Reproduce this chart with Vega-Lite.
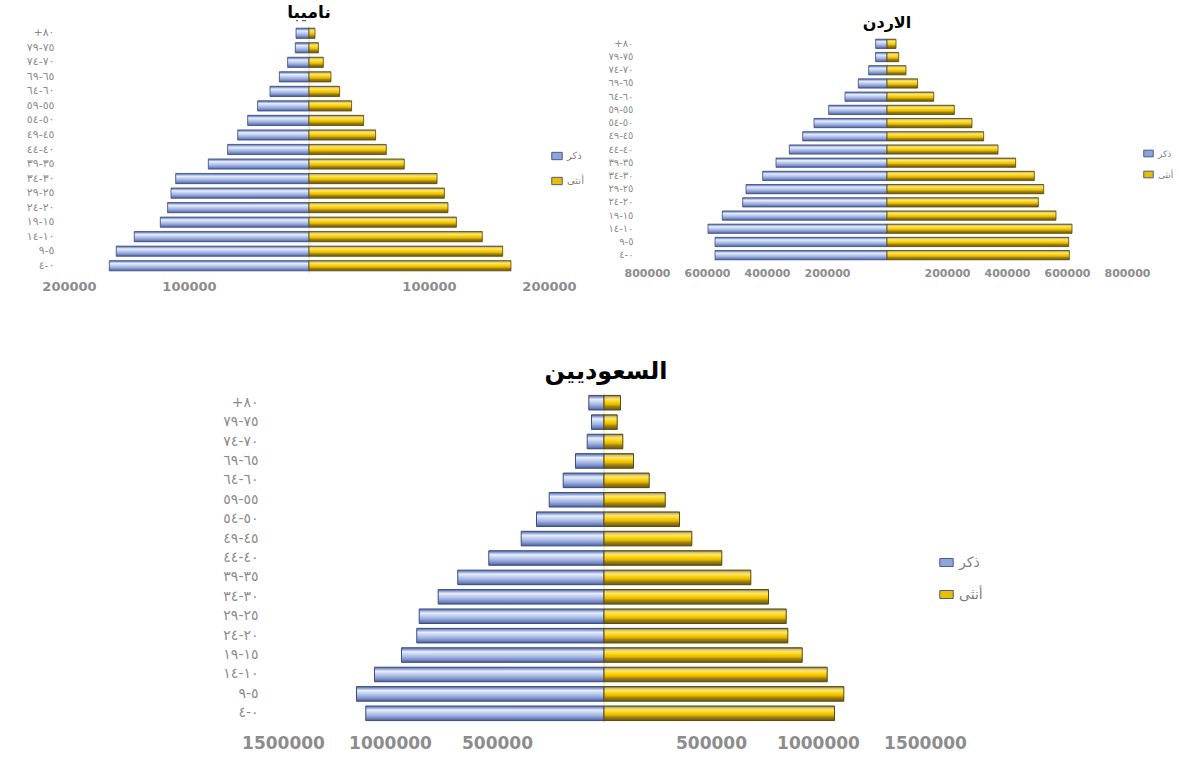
{
  "$schema": "https://vega.github.io/schema/vega-lite/v6.json",
  "background": "white",
  "padding": {"left": 9, "top": 4, "right": 0, "bottom": 0},
  "config": {
    "view": {"stroke": null},
    "font": "DejaVu Sans",
    "axis": {"grid": false, "ticks": false, "domain": false, "title": null}
  },
  "datasets": {
    "namibia": [
      {"age": "+٨٠", "sex": "ذكر", "value": -10800}, {"age": "+٨٠", "sex": "أنثى", "value": 5000},
      {"age": "٧٥-٧٩", "sex": "ذكر", "value": -11400}, {"age": "٧٥-٧٩", "sex": "أنثى", "value": 7800},
      {"age": "٧٠-٧٤", "sex": "ذكر", "value": -17800}, {"age": "٧٠-٧٤", "sex": "أنثى", "value": 11900},
      {"age": "٦٥-٦٩", "sex": "ذكر", "value": -24700}, {"age": "٦٥-٦٩", "sex": "أنثى", "value": 18300},
      {"age": "٦٠-٦٤", "sex": "ذكر", "value": -32500}, {"age": "٦٠-٦٤", "sex": "أنثى", "value": 25500},
      {"age": "٥٥-٥٩", "sex": "ذكر", "value": -42800}, {"age": "٥٥-٥٩", "sex": "أنثى", "value": 35500},
      {"age": "٥٠-٥٤", "sex": "ذكر", "value": -51100}, {"age": "٥٠-٥٤", "sex": "أنثى", "value": 45500},
      {"age": "٤٥-٤٩", "sex": "ذكر", "value": -59400}, {"age": "٤٥-٤٩", "sex": "أنثى", "value": 55500},
      {"age": "٤٠-٤٤", "sex": "ذكر", "value": -67800}, {"age": "٤٠-٤٤", "sex": "أنثى", "value": 64400},
      {"age": "٣٥-٣٩", "sex": "ذكر", "value": -83900}, {"age": "٣٥-٣٩", "sex": "أنثى", "value": 79400},
      {"age": "٣٠-٣٤", "sex": "ذكر", "value": -111100}, {"age": "٣٠-٣٤", "sex": "أنثى", "value": 106700},
      {"age": "٢٥-٢٩", "sex": "ذكر", "value": -115000}, {"age": "٢٥-٢٩", "sex": "أنثى", "value": 112800},
      {"age": "٢٠-٢٤", "sex": "ذكر", "value": -117800}, {"age": "٢٠-٢٤", "sex": "أنثى", "value": 115800},
      {"age": "١٥-١٩", "sex": "ذكر", "value": -123900}, {"age": "١٥-١٩", "sex": "أنثى", "value": 122800},
      {"age": "١٠-١٤", "sex": "ذكر", "value": -145600}, {"age": "١٠-١٤", "sex": "أنثى", "value": 144400},
      {"age": "٥-٩", "sex": "ذكر", "value": -160600}, {"age": "٥-٩", "sex": "أنثى", "value": 161400},
      {"age": "٠-٤", "sex": "ذكر", "value": -166400}, {"age": "٠-٤", "sex": "أنثى", "value": 168300}
    ],
    "jordan": [
      {"age": "+٨٠", "sex": "ذكر", "value": -37700}, {"age": "+٨٠", "sex": "أنثى", "value": 30000},
      {"age": "٧٥-٧٩", "sex": "ذكر", "value": -38000}, {"age": "٧٥-٧٩", "sex": "أنثى", "value": 39000},
      {"age": "٧٠-٧٤", "sex": "ذكر", "value": -61000}, {"age": "٧٠-٧٤", "sex": "أنثى", "value": 63300},
      {"age": "٦٥-٦٩", "sex": "ذكر", "value": -95600}, {"age": "٦٥-٦٩", "sex": "أنثى", "value": 102000},
      {"age": "٦٠-٦٤", "sex": "ذكر", "value": -140000}, {"age": "٦٠-٦٤", "sex": "أنثى", "value": 155600},
      {"age": "٥٥-٥٩", "sex": "ذكر", "value": -194400}, {"age": "٥٥-٥٩", "sex": "أنثى", "value": 224400},
      {"age": "٥٠-٥٤", "sex": "ذكر", "value": -243300}, {"age": "٥٠-٥٤", "sex": "أنثى", "value": 283300},
      {"age": "٤٥-٤٩", "sex": "ذكر", "value": -281000}, {"age": "٤٥-٤٩", "sex": "أنثى", "value": 322200},
      {"age": "٤٠-٤٤", "sex": "ذكر", "value": -325600}, {"age": "٤٠-٤٤", "sex": "أنثى", "value": 370000},
      {"age": "٣٥-٣٩", "sex": "ذكر", "value": -370000}, {"age": "٣٥-٣٩", "sex": "أنثى", "value": 428900},
      {"age": "٣٠-٣٤", "sex": "ذكر", "value": -414400}, {"age": "٣٠-٣٤", "sex": "أنثى", "value": 491000},
      {"age": "٢٥-٢٩", "sex": "ذكر", "value": -470000}, {"age": "٢٥-٢٩", "sex": "أنثى", "value": 522200},
      {"age": "٢٠-٢٤", "sex": "ذكر", "value": -481000}, {"age": "٢٠-٢٤", "sex": "أنثى", "value": 504400},
      {"age": "١٥-١٩", "sex": "ذكر", "value": -549000}, {"age": "١٥-١٩", "sex": "أنثى", "value": 563300},
      {"age": "١٠-١٤", "sex": "ذكر", "value": -596700}, {"age": "١٠-١٤", "sex": "أنثى", "value": 616700},
      {"age": "٥-٩", "sex": "ذكر", "value": -573300}, {"age": "٥-٩", "sex": "أنثى", "value": 605600},
      {"age": "٠-٤", "sex": "ذكر", "value": -573300}, {"age": "٠-٤", "sex": "أنثى", "value": 607800}
    ],
    "saudi": [
      {"age": "+٨٠", "sex": "ذكر", "value": -71000}, {"age": "+٨٠", "sex": "أنثى", "value": 77100},
      {"age": "٧٥-٧٩", "sex": "ذكر", "value": -58400}, {"age": "٧٥-٧٩", "sex": "أنثى", "value": 61700},
      {"age": "٧٠-٧٤", "sex": "ذكر", "value": -78500}, {"age": "٧٠-٧٤", "sex": "أنثى", "value": 87900},
      {"age": "٦٥-٦٩", "sex": "ذكر", "value": -133200}, {"age": "٦٥-٦٩", "sex": "أنثى", "value": 137900},
      {"age": "٦٠-٦٤", "sex": "ذكر", "value": -190700}, {"age": "٦٠-٦٤", "sex": "أنثى", "value": 211200},
      {"age": "٥٥-٥٩", "sex": "ذكر", "value": -256100}, {"age": "٥٥-٥٩", "sex": "أنثى", "value": 286000},
      {"age": "٥٠-٥٤", "sex": "ذكر", "value": -315400}, {"age": "٥٠-٥٤", "sex": "أنثى", "value": 352800},
      {"age": "٤٥-٤٩", "sex": "ذكر", "value": -386900}, {"age": "٤٥-٤٩", "sex": "أنثى", "value": 410300},
      {"age": "٤٠-٤٤", "sex": "ذكر", "value": -538300}, {"age": "٤٠-٤٤", "sex": "أنثى", "value": 550500},
      {"age": "٣٥-٣٩", "sex": "ذكر", "value": -683200}, {"age": "٣٥-٣٩", "sex": "أنثى", "value": 686000},
      {"age": "٣٠-٣٤", "sex": "ذكر", "value": -774800}, {"age": "٣٠-٣٤", "sex": "أنثى", "value": 768700},
      {"age": "٢٥-٢٩", "sex": "ذكر", "value": -863600}, {"age": "٢٥-٢٩", "sex": "أنثى", "value": 851400},
      {"age": "٢٠-٢٤", "sex": "ذكر", "value": -874800}, {"age": "٢٠-٢٤", "sex": "أنثى", "value": 858900},
      {"age": "١٥-١٩", "sex": "ذكر", "value": -946300}, {"age": "١٥-١٩", "sex": "أنثى", "value": 926200},
      {"age": "١٠-١٤", "sex": "ذكر", "value": -1072400}, {"age": "١٠-١٤", "sex": "أنثى", "value": 1043000},
      {"age": "٥-٩", "sex": "ذكر", "value": -1156500}, {"age": "٥-٩", "sex": "أنثى", "value": 1120600},
      {"age": "٠-٤", "sex": "ذكر", "value": -1113100}, {"age": "٠-٤", "sex": "أنثى", "value": 1077100}
    ]
  },
  "resolve": {"scale": {"color": "independent"}, "legend": {"color": "independent"}},
  "spacing": 67,
  "vconcat": [
    {
      "resolve": {"scale": {"color": "independent"}, "legend": {"color": "independent"}},
      "spacing": 13,
      "hconcat": [
        {
          "title": {"text": "ناميبا", "fontSize": 17, "fontWeight": "bold", "color": "#000000", "offset": 3, "frame": "group", "anchor": "middle"},
          "width": 480,
          "height": 247,
          "data": {"name": "namibia"},
          "layer": [
            {
              "data": {"values": [{}]},
              "mark": {"type": "rule", "color": "#dadada", "strokeWidth": 1.2},
              "encoding": {"x": {"datum": 0, "type": "quantitative"}}
            },
            {
              "mark": {"type": "bar"},
              "encoding": {
                "y": {"field": "age", "type": "nominal", "sort": null,
                  "scale": {"domain": ["+٨٠","٧٥-٧٩","٧٠-٧٤","٦٥-٦٩","٦٠-٦٤","٥٥-٥٩","٥٠-٥٤","٤٥-٤٩","٤٠-٤٤","٣٥-٣٩","٣٠-٣٤","٢٥-٢٩","٢٠-٢٤","١٥-١٩","١٠-١٤","٥-٩","٠-٤"], "paddingInner": 0.3, "paddingOuter": 0.15},
                  "axis": {"labelPadding": 15, "minExtent": 60, "labelFontSize": 11, "labelColor": "#8c8c8c"}},
                "x": {"field": "value", "type": "quantitative",
                  "scale": {"domain": [-200000, 200000], "nice": false},
                  "axis": {"values": [-200000, -100000, 100000, 200000], "labelExpr": "format(abs(datum.value), 'd')", "labelFlush": false, "labelOverlap": false, "labelPadding": 7, "labelFontSize": 13, "labelFontWeight": "bold", "labelColor": "#8c8c8c"}},
                "color": {"field": "sex", "type": "nominal",
                  "scale": {"domain": ["ذكر", "أنثى"], "range": ["#8fa4d8", "#e8bf00"]},
                  "legend": {"title": null, "orient": "none", "legendX": 482, "legendY": 124, "symbolType": "M-1,-0.7H1V0.7H-1Z", "symbolSize": 110, "symbolStrokeColor": "#4a5a8e", "symbolStrokeWidth": 1, "labelFontSize": 10, "labelColor": "#7f7f7f", "rowPadding": 13, "labelOffset": 4}}
              }
            },
            {
              "mark": {"type": "bar", "strokeWidth": 0.8},
              "encoding": {
                "y": {"field": "age", "type": "nominal", "sort": null},
                "x": {"field": "value", "type": "quantitative"},
                "fill": {"condition": {"test": "datum.sex == 'ذكر'", "value": {"gradient": "linear", "x1": 0, "y1": 0, "x2": 0, "y2": 1, "stops": [{"offset": 0, "color": "#56689a"}, {"offset": 0.12, "color": "#8b9fd3"}, {"offset": 0.27, "color": "#e8eefa"}, {"offset": 0.45, "color": "#c5d2f0"}, {"offset": 0.65, "color": "#9fb1e0"}, {"offset": 0.85, "color": "#7286c2"}, {"offset": 1, "color": "#4a5a8e"}]}},
                  "value": {"gradient": "linear", "x1": 0, "y1": 0, "x2": 0, "y2": 1, "stops": [{"offset": 0, "color": "#7a6a35"}, {"offset": 0.12, "color": "#d0c080"}, {"offset": 0.27, "color": "#ffe866"}, {"offset": 0.45, "color": "#ffd200"}, {"offset": 0.62, "color": "#e5b800"}, {"offset": 0.76, "color": "#a08418"}, {"offset": 1, "color": "#6a5610"}]}},
                "stroke": {"condition": {"test": "datum.sex == 'ذكر'", "value": "#3c4f85"}, "value": "#5c4a08"}
              }
            }
          ]
        },
        {
          "title": {"text": "الاردن", "fontSize": 16, "fontWeight": "bold", "color": "#000000", "offset": -5, "frame": "group", "anchor": "middle"},
          "width": 480,
          "height": 247,
          "data": {"name": "jordan"},
          "layer": [
            {
              "mark": {"type": "bar"},
              "encoding": {
                "y": {"field": "age", "type": "nominal", "sort": null,
                  "scale": {"domain": ["+٨٠","٧٥-٧٩","٧٠-٧٤","٦٥-٦٩","٦٠-٦٤","٥٥-٥٩","٥٠-٥٤","٤٥-٤٩","٤٠-٤٤","٣٥-٣٩","٣٠-٣٤","٢٥-٢٩","٢٠-٢٤","١٥-١٩","١٠-١٤","٥-٩","٠-٤"], "paddingInner": 0.3, "paddingOuter": 1.1},
                  "axis": {"labelPadding": 14, "minExtent": 50, "labelFontSize": 10, "labelColor": "#8c8c8c"}},
                "x": {"field": "value", "type": "quantitative",
                  "scale": {"domain": [-800000, 800000], "nice": false},
                  "axis": {"values": [-800000, -600000, -400000, -200000, 200000, 400000, 600000, 800000], "labelExpr": "format(abs(datum.value), 'd')", "labelFlush": false, "labelOverlap": false, "offset": -6, "labelPadding": 0, "labelFontSize": 11, "labelFontWeight": "bold", "labelColor": "#8c8c8c"}},
                "color": {"field": "sex", "type": "nominal",
                  "scale": {"domain": ["ذكر", "أنثى"], "range": ["#8fa4d8", "#e8bf00"]},
                  "legend": {"title": null, "orient": "none", "legendX": 496, "legendY": 122, "symbolType": "M-1,-0.7H1V0.7H-1Z", "symbolSize": 90, "symbolStrokeColor": "#4a5a8e", "symbolStrokeWidth": 1, "labelFontSize": 9, "labelColor": "#7f7f7f", "rowPadding": 10, "labelOffset": 4}}
              }
            },
            {
              "mark": {"type": "bar", "strokeWidth": 0.8},
              "encoding": {
                "y": {"field": "age", "type": "nominal", "sort": null},
                "x": {"field": "value", "type": "quantitative"},
                "fill": {"condition": {"test": "datum.sex == 'ذكر'", "value": {"gradient": "linear", "x1": 0, "y1": 0, "x2": 0, "y2": 1, "stops": [{"offset": 0, "color": "#56689a"}, {"offset": 0.12, "color": "#8b9fd3"}, {"offset": 0.27, "color": "#e8eefa"}, {"offset": 0.45, "color": "#c5d2f0"}, {"offset": 0.65, "color": "#9fb1e0"}, {"offset": 0.85, "color": "#7286c2"}, {"offset": 1, "color": "#4a5a8e"}]}},
                  "value": {"gradient": "linear", "x1": 0, "y1": 0, "x2": 0, "y2": 1, "stops": [{"offset": 0, "color": "#7a6a35"}, {"offset": 0.12, "color": "#d0c080"}, {"offset": 0.27, "color": "#ffe866"}, {"offset": 0.45, "color": "#ffd200"}, {"offset": 0.62, "color": "#e5b800"}, {"offset": 0.76, "color": "#a08418"}, {"offset": 1, "color": "#6a5610"}]}},
                "stroke": {"condition": {"test": "datum.sex == 'ذكر'", "value": "#3c4f85"}, "value": "#5c4a08"}
              }
            }
          ]
        }
      ]
    },
    {
      "title": {"text": "السعوديين", "fontSize": 24, "fontWeight": "bold", "color": "#000000", "offset": 8, "dx": 109, "frame": "group", "anchor": "middle"},
      "width": 856,
      "height": 330,
      "data": {"name": "saudi"},
      "layer": [
        {
          "data": {"values": [{}]},
          "mark": {"type": "rule", "color": "#dadada", "strokeWidth": 1.2},
          "encoding": {"x": {"datum": 0, "type": "quantitative"}}
        },
        {
          "mark": {"type": "bar"},
          "encoding": {
            "y": {"field": "age", "type": "nominal", "sort": null,
              "scale": {"domain": ["+٨٠","٧٥-٧٩","٧٠-٧٤","٦٥-٦٩","٦٠-٦٤","٥٥-٥٩","٥٠-٥٤","٤٥-٤٩","٤٠-٤٤","٣٥-٣٩","٣٠-٣٤","٢٥-٢٩","٢٠-٢٤","١٥-١٩","١٠-١٤","٥-٩","٠-٤"], "paddingInner": 0.25, "paddingOuter": 0.125},
              "axis": {"offset": -189, "labelPadding": 0, "minExtent": 0, "labelFontSize": 14, "labelColor": "#8c8c8c"}},
            "x": {"field": "value", "type": "quantitative",
              "scale": {"domain": [-2500000, 1500000], "nice": false, "zero": false},
              "axis": {"values": [-1500000, -1000000, -500000, 500000, 1000000, 1500000], "labelExpr": "format(abs(datum.value), 'd')", "labelFlush": false, "labelOverlap": false, "labelPadding": 12, "labelFontSize": 17, "labelFontWeight": "bold", "labelColor": "#8c8c8c"}},
            "color": {"field": "sex", "type": "nominal",
              "scale": {"domain": ["ذكر", "أنثى"], "range": ["#8fa4d8", "#e8bf00"]},
              "legend": {"title": null, "orient": "none", "legendX": 870, "legendY": 162, "symbolType": "M-1,-0.6H1V0.6H-1Z", "symbolSize": 180, "symbolStrokeColor": "#4a5a8e", "symbolStrokeWidth": 1, "labelFontSize": 14, "labelColor": "#7f7f7f", "rowPadding": 17, "labelOffset": 5}}
          }
        },
        {
          "mark": {"type": "bar", "strokeWidth": 1},
          "encoding": {
            "y": {"field": "age", "type": "nominal", "sort": null},
            "x": {"field": "value", "type": "quantitative"},
            "fill": {"condition": {"test": "datum.sex == 'ذكر'", "value": {"gradient": "linear", "x1": 0, "y1": 0, "x2": 0, "y2": 1, "stops": [{"offset": 0, "color": "#56689a"}, {"offset": 0.12, "color": "#8b9fd3"}, {"offset": 0.27, "color": "#e8eefa"}, {"offset": 0.45, "color": "#c5d2f0"}, {"offset": 0.65, "color": "#9fb1e0"}, {"offset": 0.85, "color": "#7286c2"}, {"offset": 1, "color": "#4a5a8e"}]}},
              "value": {"gradient": "linear", "x1": 0, "y1": 0, "x2": 0, "y2": 1, "stops": [{"offset": 0, "color": "#7a6a35"}, {"offset": 0.12, "color": "#d0c080"}, {"offset": 0.27, "color": "#ffe866"}, {"offset": 0.45, "color": "#ffd200"}, {"offset": 0.62, "color": "#e5b800"}, {"offset": 0.76, "color": "#a08418"}, {"offset": 1, "color": "#6a5610"}]}},
            "stroke": {"condition": {"test": "datum.sex == 'ذكر'", "value": "#3c4f85"}, "value": "#5c4a08"}
          }
        }
      ]
    }
  ]
}
